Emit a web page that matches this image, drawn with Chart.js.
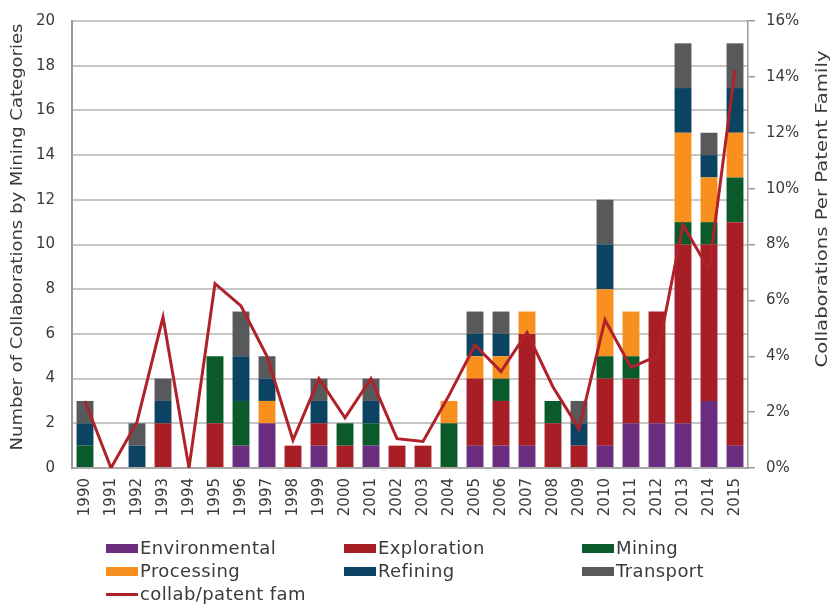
<!DOCTYPE html>
<html>
<head>
<meta charset="utf-8">
<script src="https://cdn.jsdelivr.net/npm/chart.js@4.4.1/dist/chart.umd.min.js"></script>
<style>
  html, body { margin: 0; padding: 0; background: #fff; }
  #wrap { position: relative; width: 833px; height: 605px; }
  canvas { position: absolute; left: 0; top: 0; }
  .leg { position: absolute; font-family: "DejaVu Sans", sans-serif; font-size: 18px; letter-spacing: 0.4px; color: #3a3a3a; line-height: 20px; white-space: nowrap; }
  .sw { position: absolute; left: 0; top: 6px; width: 32px; height: 9px; }
  .ln { position: absolute; left: 0; top: 9px; width: 32px; height: 3px; }
  .tx { position: absolute; left: 34px; top: 0; }
</style>
</head>
<body>
<div id="wrap">
  <canvas id="c" width="833" height="605"></canvas>
  <div id="legend"></div>
</div>
<script>
const years = ["1990","1991","1992","1993","1994","1995","1996","1997","1998","1999","2000","2001","2002","2003","2004","2005","2006","2007","2008","2009","2010","2011","2012","2013","2014","2015"];
const environmental = [0,0,0,0,0,0,1,2,0,1,0,1,0,0,0,1,1,1,0,0,1,2,2,2,3,1];
const exploration   = [0,0,0,2,0,2,0,0,1,1,1,0,1,1,0,3,2,5,2,1,3,2,5,8,7,10];
const mining        = [1,0,0,0,0,3,2,0,0,0,1,1,0,0,2,0,1,0,1,0,1,1,0,1,1,2];
const processing    = [0,0,0,0,0,0,0,1,0,0,0,0,0,0,1,1,1,1,0,0,3,2,0,4,2,2];
const refining      = [1,0,1,1,0,0,2,1,0,1,0,1,0,0,0,1,1,0,0,1,2,0,0,2,1,2];
const transport     = [1,0,1,1,0,0,2,1,0,1,0,1,0,0,0,1,1,0,0,1,2,0,0,2,1,2];
const collabPerPatentFam = [2.4,0,1.65,5.4,0,6.6,5.8,4.0,1.0,3.2,1.8,3.2,1.05,0.95,2.6,4.4,3.45,4.85,2.9,1.4,5.3,3.6,4.0,8.7,7.1,14.25];
const leftTicksMax = 20;
const rightTicksMax = 16;

const colors = {
  environmental: "#6b2e7e",
  exploration: "#a71f24",
  mining: "#0b5a2c",
  processing: "#f7901e",
  refining: "#0d4362",
  transport: "#58595b",
  line: "#b0222a"
};

const FONT = "DejaVu Sans";
const TXT = "#3a3a3a";

function barSet(label, data, color) {
  return { type: "bar", label, data, backgroundColor: color, borderWidth: 0,
           yAxisID: "y", stack: "s", order: 2, barPercentage: 0.65, categoryPercentage: 1.0 };
}

function drawVerticalTitle(ctx, text, cx, cy, targetLen) {
  ctx.save();
  ctx.fillStyle = TXT;
  ctx.font = "16px '" + FONT + "'";
  ctx.textAlign = "center";
  ctx.textBaseline = "middle";
  const w = ctx.measureText(text).width;
  ctx.translate(cx, cy);
  ctx.rotate(-Math.PI / 2);
  ctx.scale(targetLen / w, 1);
  ctx.fillText(text, 0, 0);
  ctx.restore();
}

const titlesPlugin = {
  id: "titles",
  afterDraw(chart) {
    const ctx = chart.ctx;
    drawVerticalTitle(ctx, "Number of Collaborations by Mining Categories", 18, 237, 427);
    drawVerticalTitle(ctx, "Collaborations Per Patent Family", 823, 209, 317);
  }
};

function fixVertical(width) {
  return function (s) {
    s.width = width;
    s.paddingTop = 0;
    s.paddingBottom = 0;
  };
}

new Chart(document.getElementById("c"), {
  data: {
    labels: years,
    datasets: [
      barSet("Environmental", environmental, colors.environmental),
      barSet("Exploration", exploration, colors.exploration),
      barSet("Mining", mining, colors.mining),
      barSet("Processing", processing, colors.processing),
      barSet("Refining", refining, colors.refining),
      barSet("Transport", transport, colors.transport),
      { type: "line", label: "collab/patent fam", data: collabPerPatentFam, yAxisID: "y1",
        borderColor: colors.line, backgroundColor: colors.line, borderWidth: 3,
        pointRadius: 0, tension: 0, order: 0, stack: "line" }
    ]
  },
  options: {
    responsive: false,
    animation: false,
    layout: { padding: { top: 21, bottom: 0, left: 0, right: 0 } },
    plugins: { legend: { display: false }, tooltip: { enabled: false } },
    scales: {
      x: {
        stacked: true,
        grid: { display: false, drawTicks: false },
        border: { display: true, color: "#a8a8a8", width: 2 },
        ticks: { color: TXT, font: { family: FONT, size: 15 }, minRotation: 90, maxRotation: 90, padding: 10, autoSkip: false },
        afterFit(s) { s.height = 605 - 468; s.paddingLeft = 0; s.paddingRight = 0; }
      },
      y: {
        stacked: true, position: "left", min: 0, max: leftTicksMax,
        ticks: { stepSize: 2, color: TXT, font: { family: FONT, size: 15 }, padding: 17 },
        grid: { color: "#c6c6c6", lineWidth: 2, drawTicks: false },
        border: { display: true, color: "#999999", width: 2 },
        afterFit: fixVertical(72)
      },
      y1: {
        stacked: false, position: "right", min: 0, max: rightTicksMax,
        ticks: { stepSize: 2, color: TXT, font: { family: FONT, size: 15 }, padding: 11, callback: v => v + "%" },
        grid: { drawOnChartArea: false, drawTicks: true, tickLength: 7, color: "#999999", lineWidth: 1.5 },
        border: { display: true, color: "#999999", width: 1.5 },
        afterFit: fixVertical(85)
      }
    }
  },
  plugins: [titlesPlugin]
});

const legendItems = [
  { label: "Environmental", color: colors.environmental, x: 106, y: 538 },
  { label: "Exploration", color: colors.exploration, x: 344, y: 538 },
  { label: "Mining", color: colors.mining, x: 582, y: 538 },
  { label: "Processing", color: colors.processing, x: 106, y: 561 },
  { label: "Refining", color: colors.refining, x: 344, y: 561 },
  { label: "Transport", color: colors.transport, x: 582, y: 561 },
  { label: "collab/patent fam", color: colors.line, x: 106, y: 584, line: true }
];
const lg = document.getElementById("legend");
legendItems.forEach(it => {
  const d = document.createElement("div");
  d.className = "leg";
  d.style.left = it.x + "px";
  d.style.top = it.y + "px";
  const s = document.createElement("span");
  s.className = it.line ? "ln" : "sw";
  s.style.background = it.color;
  const t = document.createElement("span");
  t.className = "tx";
  t.textContent = it.label;
  d.appendChild(s); d.appendChild(t);
  lg.appendChild(d);
});
</script>
</body>
</html>
